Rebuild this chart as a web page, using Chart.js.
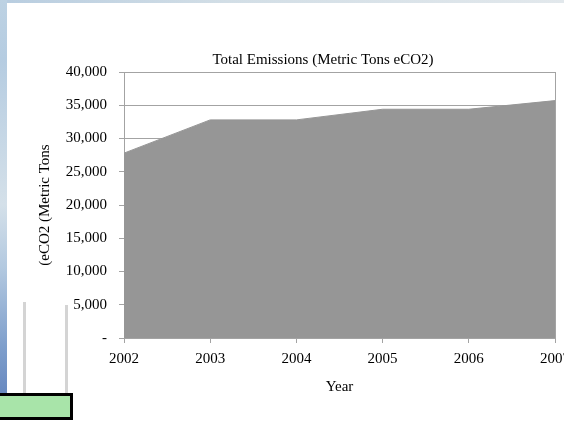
<!DOCTYPE html>
<html>
<head>
<meta charset="utf-8">
<script src="https://cdn.jsdelivr.net/npm/chart.js@4.4.1/dist/chart.umd.min.js"></script>
<style>
  html, body { margin: 0; padding: 0; background: #fff; overflow: hidden; }
  #page { position: relative; width: 564px; height: 421px; overflow: hidden; background: #fff; }
  .deco { position: absolute; }
  #topBand { left: 0; top: 0; width: 564px; height: 3px;
    background: linear-gradient(to right, #b8cde0, #d2dee6 40%, #e2e8ec); }
  #sideBand { left: 0; top: 0; width: 7px; height: 393px;
    background: linear-gradient(to bottom, #bdd2e3 0%, #b5cce1 15%, #d4e0e9 52%, #b3c9e0 68%, #7f9fcc 88%, #6889c0 100%); }
  #post1 { left: 23px; top: 302px; width: 3px; height: 92px; background: #d4d4d4; }
  #post2 { left: 65px; top: 305px; width: 3px; height: 89px; background: #d4d4d4; }
  #sign { left: -4px; top: 393px; width: 77px; height: 27px; box-sizing: border-box;
    background: #a8e4a9; border: 3px solid #000; }
  #c { position: absolute; left: 0; top: 0; }
</style>
</head>
<body>
<div id="page">
  <div class="deco" id="topBand"></div>
  <div class="deco" id="sideBand"></div>
  <div class="deco" id="post1"></div>
  <div class="deco" id="post2"></div>
  <div class="deco" id="sign"></div>
  <canvas id="c" width="600" height="421"></canvas>
</div>
<script>
// Yearly totals, metric tons eCO2
const years = ['2002', '2003', '2004', '2005', '2006', '2007'];
const totalEmissions = [27800, 32800, 32800, 34400, 34400, 35700];

// Value axis ticks and their printed labels
const yTickValues = [0, 5000, 10000, 15000, 20000, 25000, 30000, 35000, 40000];
const yTickLabels = ['-', '5,000', '10,000', '15,000', '20,000', '25,000', '30,000', '35,000', '40,000'];

const chartTitle = 'Total Emissions (Metric Tons eCO2)';
const yAxisTitle = '(eCO2 (Metric Tons';
const xAxisTitle = 'Year';

const serif = "'Liberation Serif', 'Times New Roman', serif";
const axisGrey = '#a3a3a3';
const areaGrey = '#969696';

Chart.defaults.font.family = serif;
Chart.defaults.font.size = 15;
Chart.defaults.color = '#000';

// Centre the chart title over the whole chart object (axis labels included),
// not over the full canvas width.
const titleSpan = {
  id: 'titleSpan',
  afterLayout(chart) {
    const t = chart.titleBlock;
    if (!t) return;
    const left = 91;
    const right = chart.chartArea.right;
    t.left = left;
    t.right = right;
    t.width = right - left;
  }
};

new Chart(document.getElementById('c'), {
  type: 'line',
  data: {
    labels: years,
    datasets: [{
      data: totalEmissions,
      fill: 'origin',
      backgroundColor: areaGrey,
      borderColor: areaGrey,
      borderWidth: 1,
      pointRadius: 0,
      tension: 0
    }]
  },
  plugins: [titleSpan],
  options: {
    responsive: false,
    animation: false,
    events: [],
    layout: { padding: { left: 0, right: 45, top: 0, bottom: 0 } },
    plugins: {
      legend: { display: false },
      tooltip: { enabled: false },
      title: {
        display: true,
        text: chartTitle,
        color: '#000',
        font: { family: serif, size: 15, weight: 'normal' },
        padding: { top: 51, bottom: 3 }
      }
    },
    scales: {
      x: {
        type: 'category',
        offset: false,
        afterFit: (scale) => { scale.height = 83; },
        grid: {
          drawOnChartArea: true,
          color: (ctx) => ctx.index === years.length - 1 ? axisGrey : 'rgba(0,0,0,0)',
          tickColor: axisGrey,
          tickLength: 5,
          lineWidth: 1
        },
        border: { display: true, color: axisGrey, width: 1 },
        ticks: { padding: 7, maxRotation: 0, autoSkip: false, font: { size: 15 }, color: '#000' },
        title: {
          display: true,
          text: xAxisTitle,
          color: '#000',
          font: { size: 15 },
          padding: { top: 0, bottom: 25 }
        }
      },
      y: {
        min: 0,
        max: 40000,
        afterFit: (scale) => { scale.width = 124; },
        afterBuildTicks: (scale) => { scale.ticks = yTickValues.map(v => ({ value: v })); },
        grid: { color: axisGrey, tickColor: axisGrey, tickLength: 5, lineWidth: 1 },
        border: { display: true, color: axisGrey, width: 1 },
        ticks: {
          padding: 12,
          font: { size: 15 },
          color: '#000',
          callback: (v) => yTickLabels[yTickValues.indexOf(v)]
        },
        title: {
          display: true,
          text: yAxisTitle,
          color: '#000',
          font: { size: 15 },
          padding: { top: 36, bottom: 0 }
        }
      }
    }
  }
});
</script>
</body>
</html>
